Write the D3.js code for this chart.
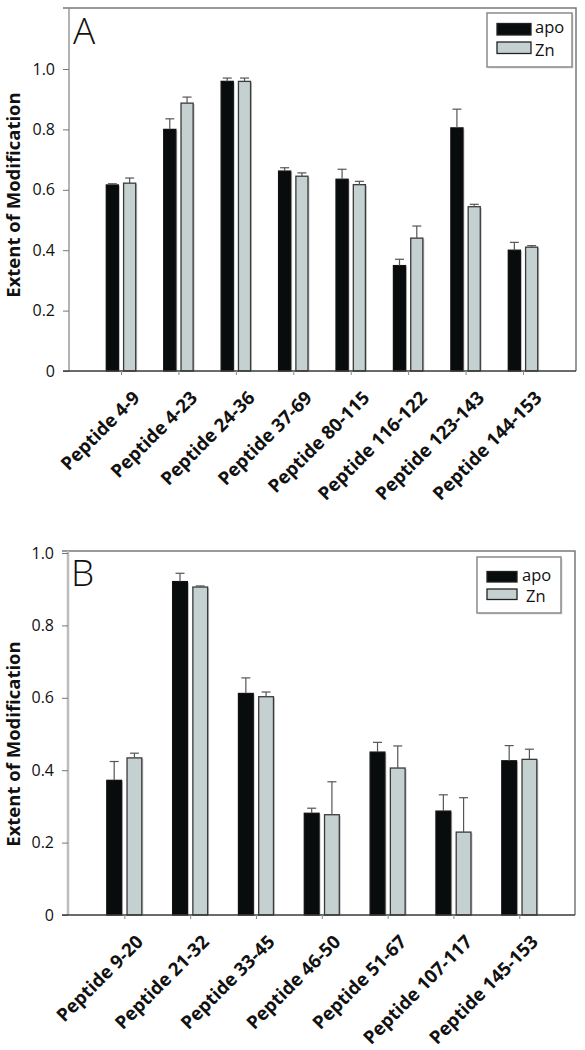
<!DOCTYPE html>
<html>
<head>
<meta charset="utf-8">
<script src="https://cdn.jsdelivr.net/npm/d3@7"></script>
<style>
  html, body { margin: 0; padding: 0; background: #fff; }
  svg { display: block; }
  text { font-family: "Open Sans", "DejaVu Sans", sans-serif; fill: #111; }
</style>
</head>
<body>
<svg id="chart" width="585" height="1050"></svg>
<script>
// ---- Data ----
const seriesNames = ["apo", "Zn"];

const categoriesA = ["Peptide 4-9", "Peptide 4-23", "Peptide 24-36", "Peptide 37-69",
                     "Peptide 80-115", "Peptide 116-122", "Peptide 123-143", "Peptide 144-153"];
const apoA    = [0.616, 0.800, 0.959, 0.662, 0.635, 0.349, 0.805, 0.400];
const apoErrA = [0.004, 0.035, 0.011, 0.011, 0.033, 0.021, 0.062, 0.026];
const znA     = [0.622, 0.887, 0.959, 0.645, 0.617, 0.440, 0.544, 0.410];
const znErrA  = [0.017, 0.020, 0.011, 0.011, 0.011, 0.040, 0.008, 0.005];
const yTicksA = [0, 0.2, 0.4, 0.6, 0.8, 1.0];

const categoriesB = ["Peptide 9-20", "Peptide 21-32", "Peptide 33-45", "Peptide 46-50",
                     "Peptide 51-67", "Peptide 107-117", "Peptide 145-153"];
const apoB    = [0.372, 0.921, 0.612, 0.281, 0.450, 0.287, 0.426];
const apoErrB = [0.052, 0.023, 0.043, 0.014, 0.027, 0.045, 0.042];
const znB     = [0.434, 0.906, 0.603, 0.277, 0.406, 0.229, 0.430];
const znErrB  = [0.013, 0.003, 0.013, 0.091, 0.061, 0.095, 0.028];
const yTicksB = [0, 0.2, 0.4, 0.6, 0.8, 1.0];

const yTitle = "Extent of Modification";
const colors = { apo: "#080c0c", Zn: "#c4d1d0" };

const svg = d3.select("#chart");

function panel(cfg) {
  const g = svg.append("g");
  const y = d3.scaleLinear().domain(cfg.yDomain).range([cfg.bottom, cfg.yTopPx]);
  const x = d3.scalePoint().domain(cfg.categories).range(cfg.xRange);
  const xs = d3.scaleBand().domain(seriesNames).range([-cfg.half, cfg.half]).paddingInner(cfg.pad);

  // frame (top & right)
  g.append("path")
    .attr("d", `M${cfg.left - 6},${cfg.top} H${cfg.right} V${cfg.bottom}`)
    .attr("fill", "none").attr("stroke", "#7a7a7a").attr("stroke-width", 1.5);
  // left axis line
  g.append("line").attr("x1", cfg.left).attr("x2", cfg.left)
    .attr("y1", cfg.top).attr("y2", cfg.bottom)
    .attr("stroke", cfg.leftColor).attr("stroke-width", cfg.leftWidth);

  // y axis
  const yAxis = d3.axisLeft(y).tickValues(cfg.yTicks)
    .tickFormat(d => d === 0 ? "0" : d3.format(".1f")(d))
    .tickSize(6).tickPadding(8);
  const ya = g.append("g").attr("transform", `translate(${cfg.left},0)`).call(yAxis);
  ya.select(".domain").remove();
  ya.selectAll(".tick line").attr("stroke", "#777").attr("stroke-width", 1);
  ya.selectAll(".tick text").style("font-size", "16px").style("font-family", "'Open Sans', sans-serif").attr("fill", "#111");

  // bars
  const data = cfg.categories.map((c, i) => ({
    c, vals: [
      { s: "apo", v: cfg.apo[i], e: cfg.apoErr[i] },
      { s: "Zn", v: cfg.zn[i], e: cfg.znErr[i] }
    ]
  }));
  const grp = g.selectAll(".grp").data(data).join("g")
    .attr("transform", d => `translate(${x(d.c)},0)`);
  const item = grp.selectAll(".it").data(d => d.vals).join("g");
  // shadow
  item.append("rect")
    .attr("x", d => xs(d.s) + 1.5).attr("width", xs.bandwidth())
    .attr("y", d => y(d.v) + 1).attr("height", d => y(0) - y(d.v) - 1)
    .attr("fill", "#c8c8c8");
  item.append("rect")
    .attr("x", d => xs(d.s)).attr("width", xs.bandwidth())
    .attr("y", d => y(d.v)).attr("height", d => y(0) - y(d.v))
    .attr("fill", d => colors[d.s])
    .attr("stroke", d => d.s === "apo" ? "#111" : "#3a3a3a")
    .attr("stroke-width", 1.3);
  // error bars (upper only)
  item.append("line")
    .attr("x1", d => xs(d.s) + xs.bandwidth() / 2).attr("x2", d => xs(d.s) + xs.bandwidth() / 2)
    .attr("y1", d => y(d.v)).attr("y2", d => y(d.v + d.e))
    .attr("stroke", "#555").attr("stroke-width", 1.2);
  item.append("line")
    .attr("x1", d => xs(d.s) + xs.bandwidth() / 2 - 4.5).attr("x2", d => xs(d.s) + xs.bandwidth() / 2 + 4.5)
    .attr("y1", d => y(d.v + d.e)).attr("y2", d => y(d.v + d.e))
    .attr("stroke", "#555").attr("stroke-width", 1.2);

  // x axis baseline + ticks
  g.append("line").attr("x1", cfg.left - 6).attr("x2", cfg.right)
    .attr("y1", cfg.bottom).attr("y2", cfg.bottom)
    .attr("stroke", "#3a3a3a").attr("stroke-width", 1.5);
  const xAxis = d3.axisBottom(x).tickSize(4).tickFormat("");
  const xa = g.append("g").attr("transform", `translate(0,${cfg.bottom})`).call(xAxis);
  xa.select(".domain").remove();
  xa.selectAll(".tick line").attr("stroke", "#888");

  // x labels rotated
  g.selectAll(".xl").data(cfg.categories).join("text")
    .attr("transform", d => `translate(${x(d) + cfg.lblDx},${cfg.bottom + cfg.lblDy}) rotate(-45)`)
    .attr("text-anchor", "end")
    .style("font-size", "18.5px").style("font-weight", "700")
    .text(d => d);

  // y title
  g.append("text")
    .attr("transform", `translate(${cfg.titleX},${cfg.titleY}) rotate(-90)`)
    .attr("text-anchor", "middle")
    .style("font-size", "18.5px").style("font-weight", "700")
    .text(yTitle);

  // panel letter
  g.append("text").attr("x", cfg.letterX).attr("y", cfg.letterY)
    .style("font-size", "37px").style("font-weight", "300")
    .style("font-family", "'Open Sans', sans-serif")
    .text(cfg.letter);

  // legend
  const L = cfg.legend;
  g.append("rect").attr("x", L.x + 1.5).attr("y", L.y + 1.5).attr("width", L.w).attr("height", L.h)
    .attr("fill", "#ddd");
  g.append("rect").attr("x", L.x).attr("y", L.y).attr("width", L.w).attr("height", L.h)
    .attr("fill", "#fff").attr("stroke", "#8a8a8a").attr("stroke-width", 1.5);
  seriesNames.forEach((s, i) => {
    g.append("rect").attr("x", L.sx).attr("y", L.sy[i]).attr("width", L.sw).attr("height", L.sh)
      .attr("fill", colors[s]).attr("stroke", "#222").attr("stroke-width", 1.3);
    g.append("text").attr("x", L.tx[i]).attr("y", L.ty[i])
      .style("font-size", "16.5px").text(s);
  });
}

panel({
  categories: categoriesA, apo: apoA, apoErr: apoErrA, zn: znA, znErr: znErrA,
  yTicks: yTicksA, yDomain: [0, 1.0], yTopPx: 69,
  left: 69, right: 576, top: 8, bottom: 371,
  xRange: [121, 523], half: 14.7, pad: 0.3,
  leftColor: "#8a8a8a", leftWidth: 1.3,
  lblDx: 20, lblDy: 28, titleX: 20, titleY: 195,
  letter: "A", letterX: 73, letterY: 44,
  legend: { x: 487, y: 13, w: 85, h: 54, sx: 497, sw: 34, sh: 11.5, sy: [23.5, 42], tx: [535, 535], ty: [33, 56] }
});

panel({
  categories: categoriesB, apo: apoB, apoErr: apoErrB, zn: znB, znErr: znErrB,
  yTicks: yTicksB, yDomain: [0, 1.0], yTopPx: 553,
  left: 68, right: 575, top: 551, bottom: 915,
  xRange: [124.3, 519.3], half: 17.5, pad: 0.27,
  leftColor: "#bdbdbd", leftWidth: 2.5,
  lblDx: 20, lblDy: 28, titleX: 20, titleY: 744,
  letter: "B", letterX: 71, letterY: 586,
  legend: { x: 477, y: 557, w: 84, h: 56, sx: 487, sw: 30, sh: 10.5, sy: [571.5, 589], tx: [522, 526], ty: [581, 602] }
});
</script>
</body>
</html>
